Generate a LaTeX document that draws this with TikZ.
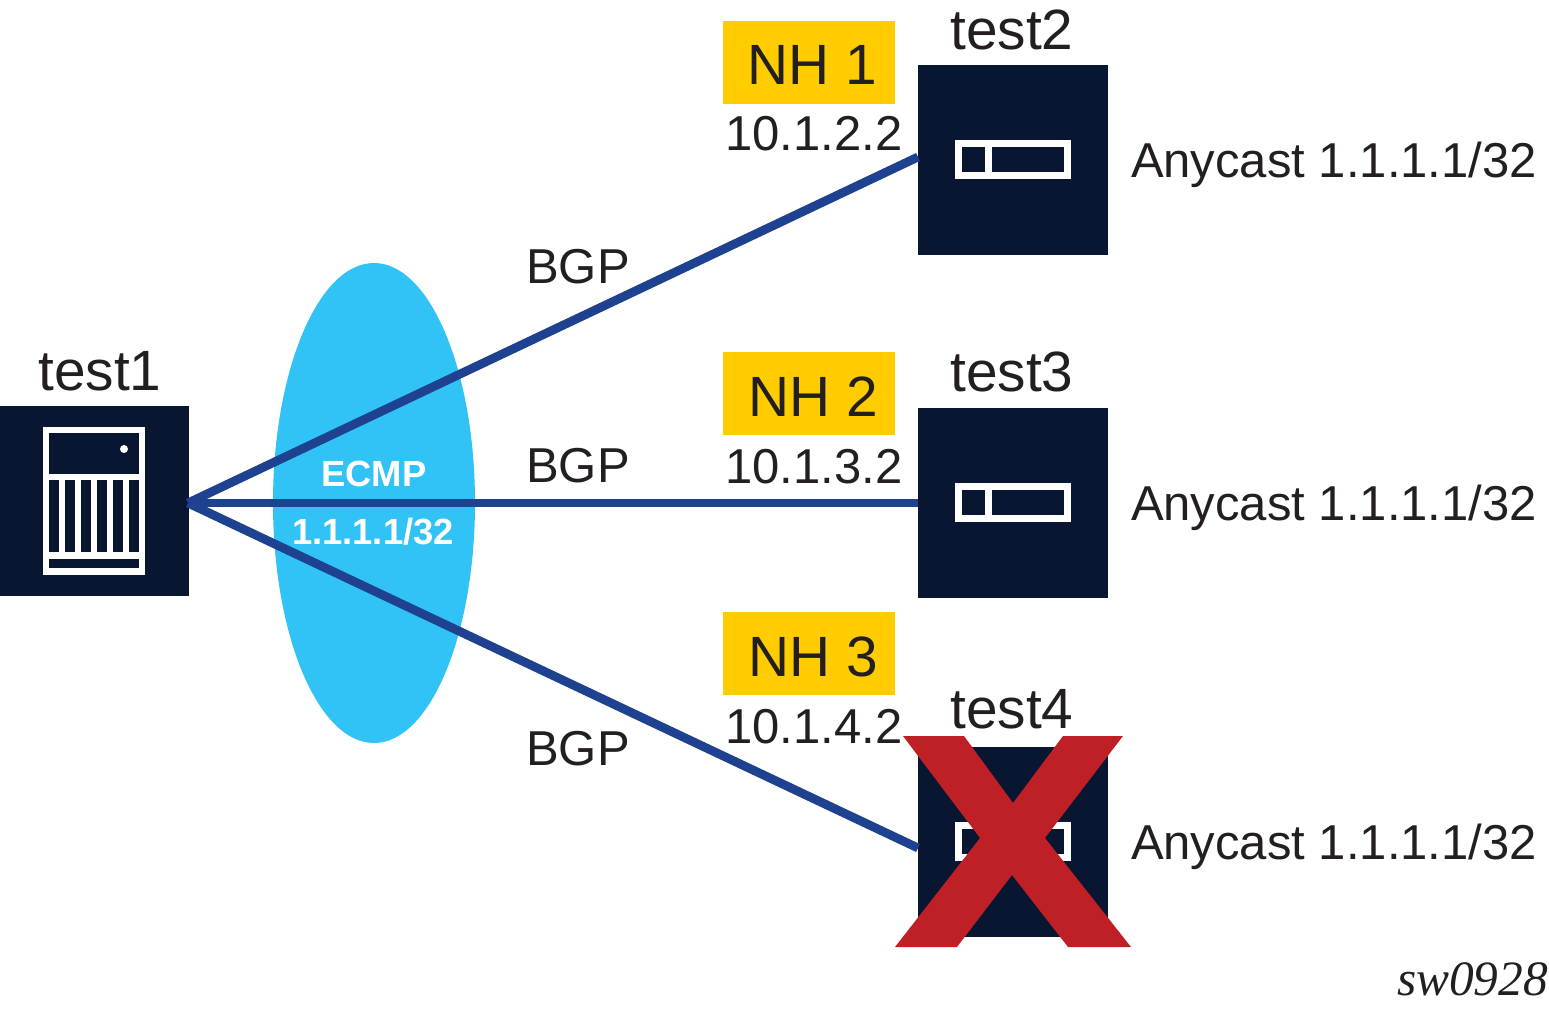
\documentclass[tikz,border=0pt]{standalone}
\usepackage{fontspec}
\setmainfont{Liberation Sans}
\newfontfamily\serifit[ItalicFont={Liberation Serif Italic}]{Liberation Serif}
\definecolor{navy}{HTML}{081632}
\definecolor{linkblue}{HTML}{1E4190}
\definecolor{cyanell}{HTML}{31C3F5}
\definecolor{nhyellow}{HTML}{FFCC00}
\definecolor{xred}{HTML}{BE2026}
\definecolor{ink}{HTML}{231F20}
\tikzset{
  every node/.style={inner sep=0pt,outer sep=0pt,text=ink},
  px/.style={x=0.5pt,y=-0.5pt},
  devbox/.style={fill=navy,minimum width=95pt,minimum height=95pt,anchor=north west},
  nhbox/.style={fill=nhyellow,minimum width=86pt,minimum height=41.5pt,anchor=north west},
  link/.style={draw=linkblue,line width=4.4pt},
  lbl/.style={anchor=base,font=\fontsize{24.5}{28}\selectfont},
  big/.style={anchor=base,font=\fontsize{28.4}{32}\selectfont},
  ecmp/.style={anchor=base,text=white,font=\fontsize{18.2}{22}\selectfont\bfseries},
}
\begin{document}
\begin{tikzpicture}[px]
\useasboundingbox (0,0) rectangle (1549,1011);
% ECMP ellipse
\fill[cyanell] (374,503) ellipse [x radius=101, y radius=240];
% devices
\node[devbox] (t1) at (-1,406) {};
\node[devbox] (t2) at (918,65) {};
\node[devbox] (t3) at (918,408) {};
\node[devbox] (t4) at (918,747) {};
% links
\coordinate (hub) at (188,503);
\coordinate (p2) at (918,157);
\coordinate (p4) at (918,848);
\draw[link] (hub) -- (p2);
\draw[link] (hub) -- (t3.west);
\draw[link] (hub) -- (p4);
% test1 icon
\fill[white] (43,427) rectangle (145,575);
\fill[navy] (49,433) rectangle (139,474);
\fill[navy] (49,559) rectangle (139,568);
\foreach \x in {49,65,81,97,113,129} \fill[navy] (\x,480) rectangle (\x+10,552);
\fill[white] (124,449) circle [radius=4];
% line-card icons
\foreach \y in {140,483,822} {
  \fill[white] (955,\y) rectangle (1071,\y+39);
  \fill[navy] (962,\y+7) rectangle (985,\y+32);
  \fill[navy] (992,\y+7) rectangle (1064,\y+32);
}
% red cross
\fill[xred] (903,736) -- (964,736) -- (1013,803) -- (1063,736) -- (1123,736) -- (1045,838)
  -- (1131,947) -- (1068,947) -- (1012,875) -- (957,947) -- (895,947) -- (980,838) -- cycle;
% NH boxes
\node[nhbox] (n1) at (723,21) {};
\node[nhbox] (n2) at (723,352) {};
\node[nhbox] (n3) at (723,612) {};
% labels
\node[big] (ln1) at (812,85) {NH 1};
\node[big] (ln2) at (813,416) {NH 2};
\node[big] (ln3) at (813,676) {NH 3};
\node[lbl] (ip1) at (814,151) {10.1.2.2};
\node[lbl] (ip2) at (814,483) {10.1.3.2};
\node[lbl] (ip3) at (814,743) {10.1.4.2};
\node[big] (lt1) at (100,390) {test1};
\node[big] (lt2) at (1012,50) {test2};
\node[big] (lt3) at (1012,391) {test3};
\node[big] (lt4) at (1012,728) {test4};
\node[lbl] (a1) at (1334,177) {Anycast 1.1.1.1/32};
\node[lbl] (a2) at (1334,520) {Anycast 1.1.1.1/32};
\node[lbl] (a3) at (1334,859) {Anycast 1.1.1.1/32};
\node[lbl] (b1) at (578,284) {BGP};
\node[lbl] (b2) at (578,482) {BGP};
\node[lbl] (b3) at (578,765) {BGP};
\node[ecmp] (e1) at (374,486) {ECMP};
\node[ecmp] (e2) at (373,544) {1.1.1.1/32};
\node[anchor=base east,font=\fontsize{24.7}{28}\selectfont\serifit\itshape] (sw) at (1548,995) {sw0928};
\end{tikzpicture}
\end{document}
